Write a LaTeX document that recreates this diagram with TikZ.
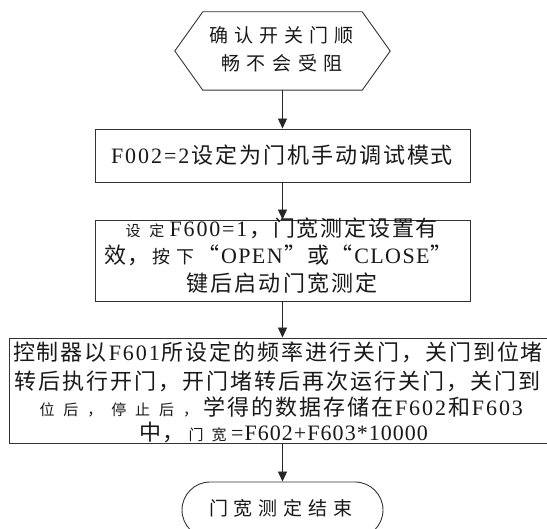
\documentclass[tikz,border=0pt]{standalone}
\usepackage{fontspec}
\setmainfont{Noto Sans CJK SC}
\newfontfamily\cjkf{Noto Sans CJK SC}
\newfontfamily\latf{Liberation Serif}
\usetikzlibrary{arrows.meta,calc}
\newdimen\spcell
\makeatletter
\newif\if@firsttok
\newcommand\spreadtext[2]{\makebox[#1][s]{\@firsttoktrue\@tfor\sp@tok:=#2\do{\expandafter\sp@one\sp@tok}}}
\newcommand\sp@one[1]{\ifcat\relax\noexpand#1#1\else\if@firsttok\@firsttokfalse\else\hfil\fi\ifnum`#1<128\relax{\latf#1}\else\ifdim\spcell>0pt\makebox[\spcell]{\cjkf#1}\else{\cjkf#1}\fi\fi\fi}
\makeatother
\newcommand\zbig{\fontsize{22}{26}\selectfont\spcell=0pt\relax}
\newcommand\zhex{\fontsize{19}{23}\selectfont\spcell=0pt\relax}
\newcommand\zmid{\fontsize{18}{22}\selectfont\spcell=22pt\relax}
\newcommand\zsmall{\fontsize{15}{18}\selectfont\spcell=22pt\relax}
\tikzset{
  shapeline/.style={draw=black!80, line width=0.9pt},
  boxnode/.style={shapeline, rectangle, inner sep=0pt, fill=white},
  txt/.style={anchor=base, inner sep=0pt, text=black!90},
  arr/.style={draw=black!85, line width=0.9pt, -{Triangle[length=10pt,width=9pt]}}
}
\begin{document}
\begin{tikzpicture}[x=1pt,y=-1pt]
\useasboundingbox (0,0) rectangle (547,529);
% shapes
\node[inner sep=0pt, minimum width=215pt, minimum height=78pt] (hex) at (282.5,51) {};
\draw[shapeline] (hex.west) -- ([xshift=28pt]hex.north west) -- ([xshift=-28pt]hex.north east)
  -- (hex.east) -- ([xshift=-28pt]hex.south east) -- ([xshift=28pt]hex.south west) -- cycle;
\node[boxnode, minimum width=375pt, minimum height=53pt] (b1) at (282.5,155.5) {};
\node[boxnode, minimum width=375pt, minimum height=81pt] (b2) at (282.5,260.5) {};
\node[boxnode, minimum width=543pt, minimum height=105pt] (b3) at (280.5,390.5) {};
\node[boxnode, rounded corners=28pt, minimum width=201pt, minimum height=56pt] (term) at (282.5,510) {};
% connectors
\draw[arr] (hex.south) -- (b1.north);
\draw[arr] (b1.south) -- (b2.north);
\draw[arr] (b2.south) -- (b2.south |- b3.north);
\draw[arr] (b3.south -| term.north) -- (term.north);
% texts
\node[txt] (h1) at (281.5,42.2) {\zhex\spreadtext{145pt}{确认开关门顺}};
\node[txt] (h2) at (282,70.2) {\zhex\spreadtext{122pt}{畅不会受阻}};
\node[txt] (t1) at (282,163.4) {\zbig\spreadtext{342pt}{F002=2设定为门机手动调试模式}};
\node[txt] (t2a) at (280,236.4) {\zbig\spreadtext{316pt}{\zsmall 设定\zbig F600=1，门宽测定设置有}};
\node[txt] (t2b) at (278.5,263.4) {\zbig\spreadtext{349pt}{效，\zmid 按下\zbig “OPEN”或“CLOSE”}};
\node[txt] (t2c) at (282,291.4) {\zbig\spreadtext{192pt}{键后启动门宽测定}};
\node[txt] (t3a) at (278,360.4) {\zbig\spreadtext{530pt}{控制器以F601所设定的频率进行关门，关门到位堵}};
\node[txt] (t3b) at (278,389.4) {\zbig\spreadtext{526pt}{转后执行开门，开门堵转后再次运行关门，关门到}};
\node[txt] (t3c) at (279.5,415.4) {\zbig\spreadtext{487pt}{\zsmall 位后，停止后，\zbig 学得的数据存储在F602和F603}};
\node[txt] (t3d) at (283.5,440.4) {\zbig\spreadtext{289pt}{中，\zsmall 门宽\zbig =F602+F603*10000}};
\node[txt] (te) at (281,515.2) {\zhex\spreadtext{144pt}{门宽测定结束}};
\end{tikzpicture}
\end{document}
